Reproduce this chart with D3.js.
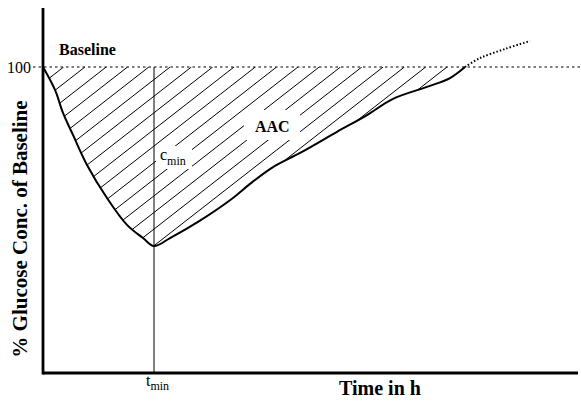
<!DOCTYPE html>
<html>
<head>
<meta charset="utf-8">
<script src="https://cdn.jsdelivr.net/npm/d3@7"></script>
<style>
  body { margin: 0; background: #fff; }
  text { font-family: "Liberation Serif", "Times New Roman", serif; fill: #000; }
</style>
</head>
<body>
<div id="chart"></div>
<script>
// Time (h) and glucose (% of baseline)
var timeMeasured = [0, 0.24, 0.4, 0.6, 0.88, 1.28, 1.68, 2.0, 2.22, 2.54, 3.14, 3.8, 4.14, 4.6, 5.14, 5.88, 6.48, 7.0, 7.68, 8.14, 8.44];
var glucMeasured = [100, 92.5, 85.0, 77.8, 68.0, 57.2, 48.4, 44.1, 41.5, 44.1, 49.8, 57.2, 61.8, 67.3, 71.9, 78.8, 84.3, 89.6, 93.5, 96.4, 100];
// dotted extension after return to baseline
var timeExtra = [8.44, 8.74, 9.24, 9.74];
var glucExtra = [100, 102.9, 105.9, 108.5];
var baseline = 100;
var tMinIndex = 8;

var width = 581,
    height = 402;

var svg = d3.select("#chart")
  .append("svg")
    .attr("width", width)
    .attr("height", height);

var x = d3.scaleLinear().domain([0, 10.7]).range([43, 578]);
var y = d3.scaleLinear().domain([0, 100]).range([373, 67]);

var pts = timeMeasured.map(function(t, i) { return {t: t, v: glucMeasured[i]}; });
var extra = timeExtra.map(function(t, i) { return {t: t, v: glucExtra[i]}; });

var curve = d3.curveCatmullRom.alpha(0.5);

var area = d3.area()
    .x(function(d) { return x(d.t); })
    .y0(y(baseline))
    .y1(function(d) { return y(d.v); })
    .curve(curve);

var line = d3.line()
    .x(function(d) { return x(d.t); })
    .y(function(d) { return y(d.v); })
    .curve(curve);

// clip for hatching
svg.append("clipPath")
    .attr("id", "aacClip")
  .append("path")
    .attr("d", area(pts));

var slope = 0.78, step = 21.3, x0 = 63.6;
var hatchX = d3.range(0, 24).map(function(k) { return x0 + k * step; });

svg.append("g")
    .attr("clip-path", "url(#aacClip)")
  .selectAll("line")
  .data(hatchX)
  .enter().append("line")
    .attr("x1", function(d) { return d - 260; })
    .attr("y1", y(baseline) + 260 * slope)
    .attr("x2", function(d) { return d; })
    .attr("y2", y(baseline))
    .attr("stroke", "#000")
    .attr("stroke-width", 1);

// blank boxes behind labels inside the hatch
svg.append("rect").attr("x", 244).attr("y", 110).attr("width", 56).attr("height", 30).attr("fill", "#fff");
svg.append("rect").attr("x", 156).attr("y", 146).attr("width", 36).attr("height", 23).attr("fill", "#fff");

// baseline (dotted)
svg.append("line")
    .attr("x1", 33).attr("x2", width)
    .attr("y1", y(baseline)).attr("y2", y(baseline))
    .attr("stroke", "#000")
    .attr("stroke-width", 1.2)
    .attr("stroke-dasharray", "2.5,3");

// t_min vertical
var tmin = pts[tMinIndex];
svg.append("line")
    .attr("x1", x(tmin.t)).attr("x2", x(tmin.t))
    .attr("y1", y(baseline)).attr("y2", y(0))
    .attr("stroke", "#000")
    .attr("stroke-width", 1);

// curve
svg.append("path")
    .attr("d", line(pts))
    .attr("fill", "none")
    .attr("stroke", "#000")
    .attr("stroke-width", 2);

svg.append("path")
    .attr("d", line(extra))
    .attr("fill", "none")
    .attr("stroke", "#000")
    .attr("stroke-width", 2)
    .attr("stroke-dasharray", "1.5,2");

// axes
svg.append("line")
    .attr("x1", 43).attr("x2", 43)
    .attr("y1", 8).attr("y2", y(0) + 1.5)
    .attr("stroke", "#000").attr("stroke-width", 2.8);
svg.append("line")
    .attr("x1", 43).attr("x2", 578)
    .attr("y1", y(0)).attr("y2", y(0))
    .attr("stroke", "#000").attr("stroke-width", 2.8);

// labels
svg.append("text")
    .attr("x", 31).attr("y", y(baseline) + 6)
    .attr("text-anchor", "end")
    .style("font-size", "16px")
    .text("100");

svg.append("text")
    .attr("x", 59).attr("y", 55)
    .style("font-size", "16px")
    .style("font-weight", "bold")
    .text("Baseline");

svg.append("text")
    .attr("x", 255).attr("y", 132)
    .style("font-size", "16px")
    .style("font-weight", "bold")
    .text("AAC");

var cmin = svg.append("text")
    .attr("x", 160).attr("y", 160)
    .style("font-size", "16px");
cmin.append("tspan").text("c");
cmin.append("tspan").attr("dy", 5).style("font-size", "12px").text("min");

var tminLbl = svg.append("text")
    .attr("x", 146).attr("y", 386)
    .style("font-size", "16px");
tminLbl.append("tspan").text("t");
tminLbl.append("tspan").attr("dy", 4).style("font-size", "12px").text("min");

svg.append("text")
    .attr("x", 339).attr("y", 395)
    .style("font-size", "20px")
    .style("font-weight", "bold")
    .text("Time in h");

svg.append("text")
    .attr("transform", "translate(27,229) rotate(-90)")
    .attr("text-anchor", "middle")
    .style("font-size", "21px")
    .style("font-weight", "bold")
    .text("% Glucose Conc. of Baseline");
</script>
</body>
</html>
